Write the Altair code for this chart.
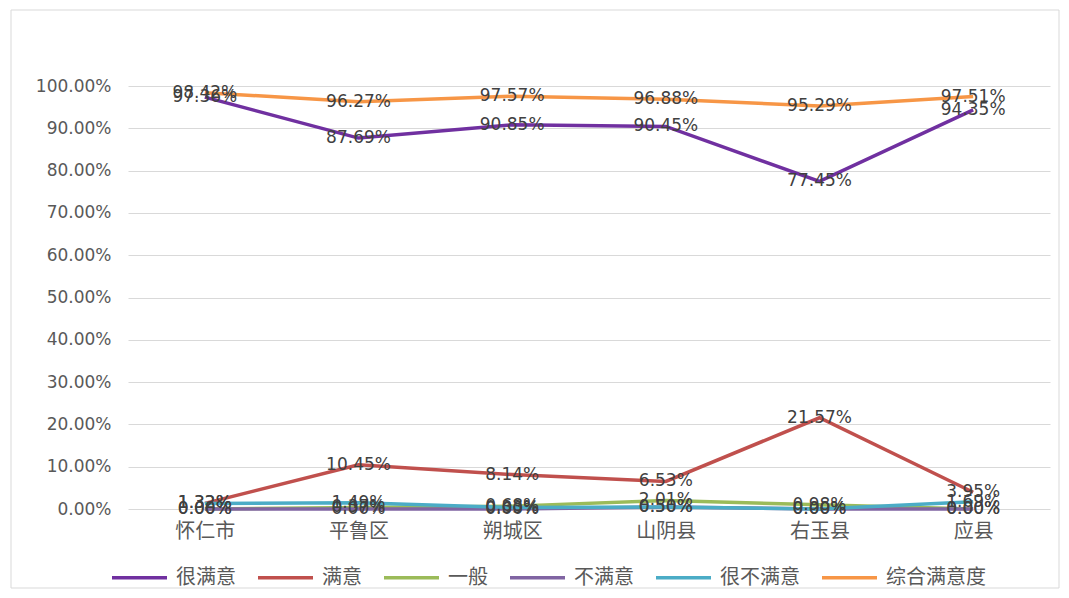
import altair as alt
import pandas as pd

regions = ["怀仁市", "平鲁区", "朔城区", "山阴县", "右玉县", "应县"]
series = ["很满意", "满意", "一般", "不满意", "很不满意", "综合满意度"]
colors = ["#7030A0", "#C0504D", "#9BBB59", "#8064A2", "#4BACC6", "#F79646"]

very_satisfied = [97.36, 87.69, 90.85, 90.45, 77.45, 94.35]
satisfied = [1.32, 10.45, 8.14, 6.53, 21.57, 3.95]
average = [0.00, 0.37, 0.68, 2.01, 0.98, 0.00]
unsatisfied = [0.00, 0.00, 0.00, 0.50, 0.00, 0.00]
very_unsatisfied = [1.32, 1.49, 0.33, 0.50, 0.00, 1.69]
overall = [98.42, 96.27, 97.57, 96.88, 95.29, 97.51]

values = [very_satisfied, satisfied, average, unsatisfied, very_unsatisfied, overall]
rows = []
for si, (name, vals) in enumerate(zip(series, values)):
    for r, v in zip(regions, vals):
        rows.append({"地区": r, "类别": name, "值": v / 100.0, "order": si})
df = pd.DataFrame(rows)

x = alt.X("地区:N", sort=regions, title=None,
          scale=alt.Scale(type="point", padding=0.5),
          axis=alt.Axis(labelAngle=0, domain=False, ticks=False, grid=False,
                        labelFont="Noto Sans CJK SC", labelFontSize=20,
                        labelColor="#595959", labelPadding=12))
y = alt.Y("值:Q", title=None,
          scale=alt.Scale(domain=[0, 1], nice=False, zero=True),
          axis=alt.Axis(values=[i / 10 for i in range(11)], format=".2%",
                        domain=False, ticks=False, gridColor="#D9D9D9",
                        labelFont="DejaVu Sans", labelFontSize=17,
                        labelColor="#595959", labelPadding=17))
color = alt.Color("类别:N", sort=series,
                  scale=alt.Scale(domain=series, range=colors),
                  legend=alt.Legend(title=None, orient="none", direction="horizontal",
                                    legendX=-18, legendY=462,
                                    symbolType="stroke", symbolSize=3025,
                                    symbolStrokeWidth=3.5, labelFont="Noto Sans CJK SC",
                                    labelFontSize=20, labelColor="#595959",
                                    labelOffset=7, columnPadding=15))

base = alt.Chart(df)
lines = base.mark_line(strokeWidth=3.5).encode(x=x, y=y, color=color,
                                              order=alt.Order("order:Q"))
labels = base.mark_text(font="DejaVu Sans", fontSize=17, color="#404040",
                        baseline="middle", align="center").encode(
    x=alt.X("地区:N", sort=regions), y=alt.Y("值:Q"),
    text=alt.Text("值:Q", format=".2%"))

border = alt.Chart(pd.DataFrame({"a": [0]})).mark_rect(
    fillOpacity=0, stroke="#D9D9D9", strokeWidth=1).encode(
    x=alt.value(-117), x2=alt.value(931), y=alt.value(-76), y2=alt.value(502))

chart = alt.layer(border, lines, labels).properties(
    width=922, height=423,
    padding={"left": 120, "top": 78, "right": 10, "bottom": 80},
    autosize=alt.AutoSizeParams(type="none"),
).configure_view(stroke=None)

chart.save("out.html", embed_options={"renderer": "svg", "actions": False})
